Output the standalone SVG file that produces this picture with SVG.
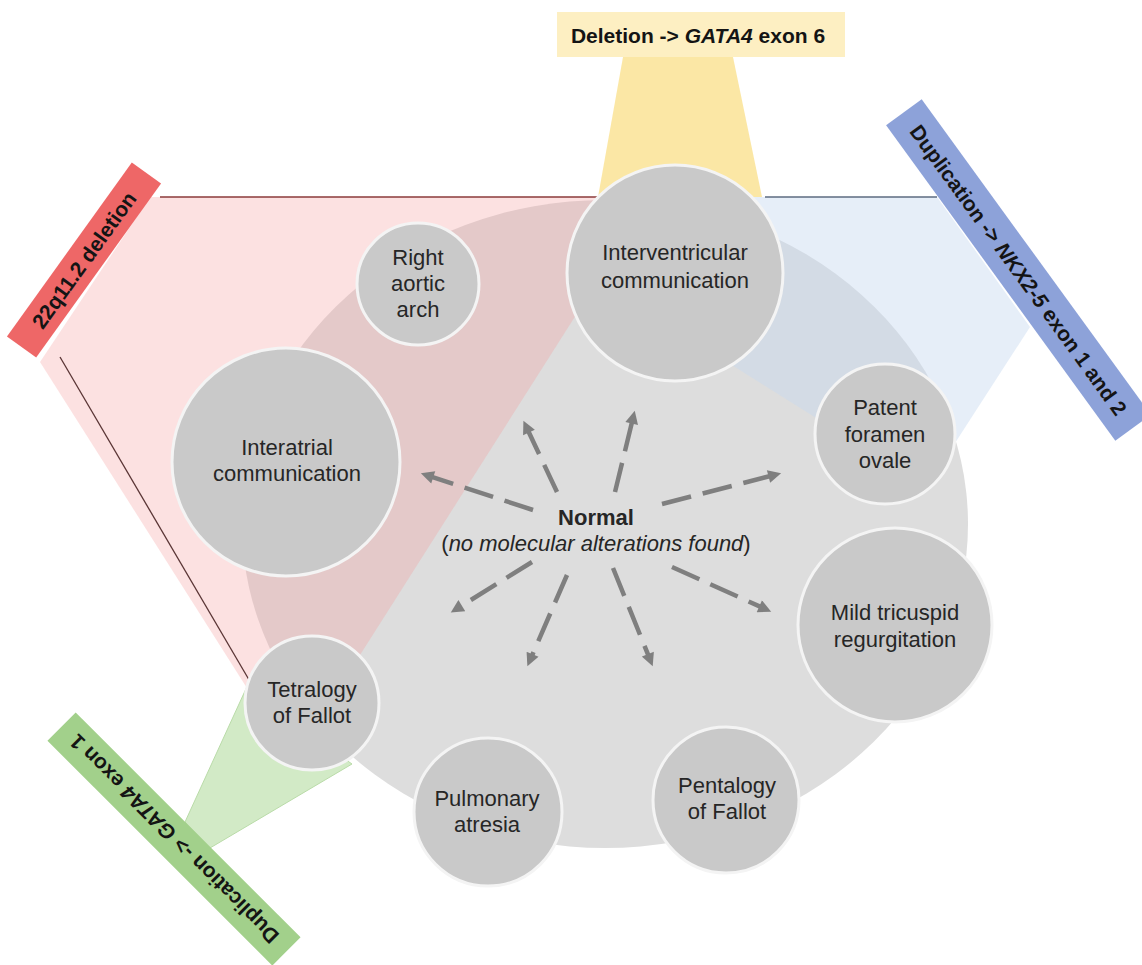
<svg xmlns="http://www.w3.org/2000/svg" width="1142" height="965" viewBox="0 0 1142 965">
<defs>
<marker id="ah" viewBox="0 0 10 10" refX="3" refY="5" markerWidth="15" markerHeight="13" markerUnits="userSpaceOnUse" orient="auto">
<path d="M0,0 L10,5 L0,10 z" fill="#7f7f7f"/>
</marker>
<style>
.node circle{fill:#c9c9c9;stroke:#f4f4f4;stroke-width:3}
.nt{font-family:"Liberation Sans",Arial,sans-serif;font-size:22px;fill:#262626;text-anchor:middle}
.lt{font-family:"Liberation Sans",Arial,sans-serif;font-size:21px;font-weight:bold;fill:#141414;text-anchor:middle}
.arr{stroke:#7f7f7f;stroke-width:4.5;fill:none;stroke-dasharray:30 12;marker-end:url(#ah)}
</style>
</defs>
<rect width="1142" height="965" fill="#ffffff"/>
<g id="background">
<ellipse cx="605" cy="524" rx="363" ry="324" fill="#dddddd"/>
<polygon points="150,197 651,197 306,740 280,740 40,362" fill="#f59a9a" fill-opacity="0.3"/>
<line x1="160" y1="197" x2="600" y2="197" stroke="#8b3a3a" stroke-width="1.5"/>
<line x1="60" y1="357" x2="255" y2="690" stroke="#5a3535" stroke-width="1.3"/>
<polygon points="700,197 937,197 1030,327 935,474 880,458 700,345" fill="#c8daf0" fill-opacity="0.45"/>
<line x1="765" y1="197" x2="937" y2="197" stroke="#5d6b80" stroke-width="1.5"/>
<polygon points="623,57 733,57 762,197 598,197" fill="#fbe49b" fill-opacity="0.9"/>
<polygon points="185,822 210,848 352,764 318,740 250,680" fill="#d2eac6" stroke="#b9dba8" stroke-width="1"/>
</g>
<g id="label-yellow">
<rect x="557" y="12" width="288" height="45" fill="#fdefc2"/>
<text class="lt" x="698" y="43">Deletion -&gt; <tspan font-style="italic">GATA4</tspan> exon 6</text>
</g>
<g id="label-red" transform="translate(84,260) rotate(-54.3)">
<rect x="-107" y="-18" width="214" height="36" fill="#ee6767"/>
<text class="lt" x="0" y="7.5">22q11.2 deletion</text>
</g>
<g id="label-blue" transform="translate(1018.5,270) rotate(54)">
<rect x="-195" y="-22" width="390" height="44" fill="#8da2d9"/>
<text class="lt" x="0" y="7.5">Duplication -&gt; <tspan font-style="italic">NKX2-5</tspan> exon 1 and 2</text>
</g>
<g id="label-green" transform="translate(174,839) rotate(225)">
<rect x="-159" y="-20" width="318" height="40" fill="#a2d08b"/>
<text class="lt" x="0" y="7.5">Duplication -&gt; <tspan font-style="italic">GATA4</tspan> exon 1</text>
</g>
<g id="connectors">
<line class="arr" x1="557" y1="492" x2="527.3" y2="429"/>
<line class="arr" x1="615" y1="492" x2="632.6" y2="419.7"/>
<line class="arr" x1="533" y1="510" x2="429.5" y2="476.1"/>
<line class="arr" x1="662" y1="504" x2="772.3" y2="475.5"/>
<line class="arr" x1="532" y1="562" x2="458.5" y2="607.7"/>
<line class="arr" x1="567" y1="575" x2="531" y2="657.8"/>
<line class="arr" x1="613" y1="568" x2="649.3" y2="657.7"/>
<line class="arr" x1="672" y1="567" x2="762.9" y2="607.9"/>
</g>
<g id="normal">
<text class="nt" x="596" y="525" font-weight="bold" fill="#141414">Normal</text>
<text class="nt" x="596" y="551">(<tspan font-style="italic">no molecular alterations found</tspan>)</text>
</g>
<g id="interventricular" class="node">
<circle cx="675" cy="273" r="108"/>
<text class="nt" x="675" y="260">Interventricular</text>
<text class="nt" x="675" y="288">communication</text>
</g>
<g id="right-aortic-arch" class="node">
<circle cx="418" cy="284" r="61"/>
<text class="nt" x="418" y="265">Right</text>
<text class="nt" x="418" y="291">aortic</text>
<text class="nt" x="418" y="317">arch</text>
</g>
<g id="interatrial" class="node">
<circle cx="286" cy="462" r="114"/>
<text class="nt" x="287" y="455">Interatrial</text>
<text class="nt" x="287" y="481">communication</text>
</g>
<g id="patent-foramen-ovale" class="node">
<circle cx="885" cy="434" r="70"/>
<text class="nt" x="885" y="415">Patent</text>
<text class="nt" x="885" y="442">foramen</text>
<text class="nt" x="885" y="468">ovale</text>
</g>
<g id="mild-tricuspid" class="node">
<circle cx="895" cy="625" r="97"/>
<text class="nt" x="895" y="620">Mild tricuspid</text>
<text class="nt" x="895" y="647">regurgitation</text>
</g>
<g id="pentalogy" class="node">
<circle cx="726" cy="800" r="73"/>
<text class="nt" x="727" y="793">Pentalogy</text>
<text class="nt" x="727" y="819">of Fallot</text>
</g>
<g id="pulmonary-atresia" class="node">
<circle cx="488" cy="812" r="74"/>
<text class="nt" x="487" y="806">Pulmonary</text>
<text class="nt" x="487" y="832">atresia</text>
</g>
<g id="tetralogy" class="node">
<circle cx="312" cy="703" r="67"/>
<text class="nt" x="312" y="697">Tetralogy</text>
<text class="nt" x="312" y="723">of Fallot</text>
</g>
</svg>
